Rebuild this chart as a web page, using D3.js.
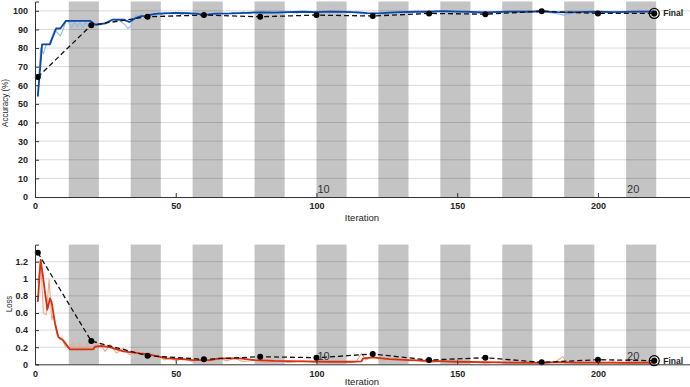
<!DOCTYPE html>
<html>
<head>
<meta charset="utf-8">
<script src="https://cdn.jsdelivr.net/npm/d3@7"></script>
<style>
  body { margin: 0; background: #fff; }
  svg { display: block; font-family: "Liberation Sans", Arial, sans-serif; }
</style>
</head>
<body>
<div id="chart"></div>
<script>
// training progress data (iteration, value)
const accRaw = [[1,54],[2,80],[3,77],[4,82],[5,82],[6,86],[7,90],[8,88],[9,86.5],[10,90],[11,94.5],[12,94],[13,91],[14,94],[15,91.5],[16,93.5],[17,91],[18,94],[19,91.5],[20,93],[21,92.5],[22,93],[23,92.5],[24,93.5],[25,93],[26,94.5],[27,95],[28,95.5],[29,94.5],[30,95],[31,93.5],[32,92.5],[33,90.5],[34,91.5],[35,96],[36,97.5],[37,97],[38,98],[39,96.5],[40,97.5],[41,98.5],[42,97],[43,98.5],[44,99],[45,98],[46,99],[48,98.5],[50,99.2],[52,98],[54,99],[56,98.4],[58,99.2],[60,97.4],[62,98.5],[64,97.8],[66,99],[68,98.2],[70,99.2],[72,98.6],[74,99.4],[76,98.5],[78,99.4],[80,98.8],[84,99.5],[86,98.6],[90,99.6],[93,98.9],[96,99.7],[100,99],[104,99.8],[107,99.1],[110,99.6],[114,98.8],[117,98.3],[120,98.8],[124,98.2],[127,99.3],[131,98.8],[135,99.8],[139,99.2],[143,100],[147,99.4],[151,99.9],[155,99.1],[158,98.6],[162,99.5],[166,99],[170,99.8],[174,99.2],[178,99.9],[182,99.3],[186,98.3],[188,97.7],[191,98.8],[195,99.5],[199,98.9],[203,99.7],[207,99.1],[211,99.8],[215,99.3],[218,99.8],[220,99.5]];

const accSmooth = [[1,54],[2.5,82],[5.3,82],[7.5,90.5],[9,90.5],[11,94.6],[19.5,94.6],[21.5,92.5],[25,93.3],[27.7,95.3],[31.5,95.3],[33.5,94],[35.5,95.9],[37.5,97],[39,97.3],[42.6,98.4],[46,98.6],[50,98.9],[54,98.7],[57,98.5],[60.4,97.8],[64,98.5],[70,98.6],[75,98.9],[80,99.2],[85,99],[90,99.3],[95,99.5],[100,99.3],[105,99.6],[110,99.4],[115,99.2],[118,98.8],[122,98.6],[126,99],[130,99.3],[135,99.5],[140,99.5],[145,99.8],[150,99.6],[155,99.4],[160,99.2],[165,99.4],[170,99.6],[175,99.5],[180,99.7],[185,99.3],[190,99.2],[195,99.4],[200,99.5],[205,99.3],[210,99.4],[215,99.6],[220,99.6]];

const lossRaw = [[1,0.95],[2,1.22],[3,0.6],[4,0.58],[5,0.99],[6,0.52],[6.5,0.58],[7.7,0.36],[8.9,0.29],[9.5,0.31],[10.7,0.21],[12,0.2],[13.6,0.245],[14.8,0.17],[16,0.245],[17.2,0.17],[18.4,0.24],[19.5,0.18],[21,0.21],[23.1,0.245],[24.9,0.15],[26.6,0.23],[29,0.13],[31.4,0.19],[33.7,0.11],[36,0.17],[37.3,0.11],[40,0.12],[42,0.08],[44,0.1],[46,0.05],[48,0.08],[50,0.04],[53,0.07],[56,0.03],[59,0.06],[62,0.03],[65,0.08],[68,0.04],[71,0.07],[74,0.03],[78,0.05],[82,0.02],[86,0.04],[90,0.02],[95,0.04],[100,0.02],[105,0.035],[110,0.02],[114,0.03],[116,0.13],[117.5,0.05],[120,0.09],[123,0.05],[127,0.06],[131,0.03],[135,0.05],[140,0.02],[145,0.04],[150,0.015],[155,0.03],[160,0.01],[165,0.03],[170,0.01],[175,0.025],[180,0.01],[185,0.03],[187.5,0.09],[189,0.02],[194,0.03],[200,0.01],[205,0.025],[210,0.01],[215,0.02],[220,0.01]];

const lossSmooth = [[1,0.73],[2,1.22],[2.7,1.06],[3.6,0.83],[4.4,0.64],[5.3,0.77],[5.9,0.73],[7.1,0.48],[8.3,0.32],[10,0.28],[12.4,0.175],[20.7,0.175],[21.3,0.206],[23.7,0.214],[26.6,0.2],[31.4,0.15],[37.3,0.128],[40,0.12],[46.8,0.07],[52,0.06],[56.2,0.05],[62.2,0.05],[65.7,0.07],[72.8,0.07],[78,0.05],[85,0.04],[95,0.035],[105,0.03],[112,0.03],[116,0.035],[116.6,0.07],[120,0.08],[126,0.06],[133,0.05],[140,0.04],[150,0.03],[160,0.025],[170,0.02],[180,0.018],[187,0.025],[192,0.02],[200,0.02],[210,0.018],[220,0.02]];

const valIters = [1, 20, 40, 60, 80, 100, 120, 140, 160, 180, 200, 220];
const valAcc = [64.4, 92.3, 96.8, 97.7, 96.8, 97.7, 97.2, 98.6, 98.2, 99.8, 98.6, 98.6];
const valLoss = [1.305, 0.272, 0.10, 0.058, 0.089, 0.077, 0.12, 0.05, 0.077, 0.023, 0.054, 0.042];

const shadedEpochs = [2, 4, 6, 8, 10, 12, 14, 16, 18, 20];
const itersPerEpoch = 11;
const labelEpochs = [10, 20];

const xTicks = [0, 50, 100, 150, 200];
const accTicks = [0, 10, 20, 30, 40, 50, 60, 70, 80, 90, 100];
const lossTicks = [0, 0.2, 0.4, 0.6, 0.8, 1, 1.2];

const W = 690, H = 387;
const svg = d3.select("#chart").append("svg").attr("width", W).attr("height", H);

const x = d3.scaleLinear().domain([0, 232.7]).range([35, 690]);

function drawPanel(opts) {
    const y = opts.y;
    const g = svg.append("g");
    const top = y.range()[1], bottom = y.range()[0];

    // epoch shading
    g.selectAll(".band")
        .data(shadedEpochs)
        .enter().append("rect")
        .attr("x", d => x((d - 1) * itersPerEpoch + 1))
        .attr("width", x(itersPerEpoch - 0.3) - x(0))
        .attr("y", top)
        .attr("height", bottom - top)
        .attr("fill", "#c4c4c4");

    // horizontal grid
    g.selectAll(".grid")
        .data(opts.ticks.slice(1))
        .enter().append("line")
        .attr("x1", x(0)).attr("x2", x.range()[1])
        .attr("y1", d => y(d)).attr("y2", d => y(d))
        .attr("stroke", "#000")
        .attr("stroke-opacity", 0.15)
        .attr("stroke-width", 1);

    // epoch labels
    g.selectAll(".ep")
        .data(labelEpochs)
        .enter().append("text")
        .attr("x", d => x((d - 1) * itersPerEpoch + 1) + 1)
        .attr("y", bottom - 4)
        .style("font-size", "11px")
        .style("fill", "#333")
        .text(d => d);

    const line = d3.line().x(d => x(d[0])).y(d => y(d[1]));

    g.append("path")
        .datum(opts.raw)
        .attr("d", line)
        .attr("fill", "none")
        .attr("stroke", opts.rawColor)
        .attr("stroke-width", 1.1)
        .attr("stroke-linejoin", "round");

    g.append("path")
        .datum(opts.smooth)
        .attr("d", line)
        .attr("fill", "none")
        .attr("stroke", opts.smoothColor)
        .attr("stroke-width", 1.8)
        .attr("stroke-linejoin", "round");

    const val = valIters.map((it, i) => [it, opts.val[i]]);

    g.append("path")
        .datum(val)
        .attr("d", line)
        .attr("fill", "none")
        .attr("stroke", "#111")
        .attr("stroke-width", 1.3)
        .attr("stroke-dasharray", "5,3");

    g.selectAll(".vdot")
        .data(val)
        .enter().append("circle")
        .attr("cx", d => x(d[0]))
        .attr("cy", d => y(d[1]))
        .attr("r", 3)
        .attr("fill", "#000");

    // final marker
    const last = val[val.length - 1];
    g.append("circle")
        .attr("cx", x(last[0])).attr("cy", y(last[1]))
        .attr("r", 5)
        .attr("fill", "none")
        .attr("stroke", "#000")
        .attr("stroke-width", 1.2);
    g.append("text")
        .attr("x", x(last[0]) + 9)
        .attr("y", y(last[1]) + 3)
        .style("font-size", "8.5px")
        .style("font-weight", "bold")
        .style("fill", "#222")
        .text("Final");

    // axes
    const yAxis = g.append("g")
        .attr("transform", `translate(${x(0)},0)`)
        .call(d3.axisLeft(y).tickValues(opts.ticks).tickSize(-4).tickPadding(7).tickFormat(opts.fmt));
    const xAxis = g.append("g")
        .attr("transform", `translate(0,${bottom})`)
        .call(d3.axisBottom(x).tickValues(xTicks).tickSize(-4).tickPadding(6));

    [yAxis, xAxis].forEach(a => {
        a.select(".domain").attr("stroke", "#333").attr("stroke-width", 1);
        a.selectAll(".tick line").attr("stroke", "#333");
        a.selectAll(".tick text")
            .style("font-size", "9px")
            .style("font-weight", "bold")
            .style("fill", "#222")
            .style("font-family", "Liberation Sans, Arial, sans-serif");
    });

    g.append("text")
        .attr("transform", `translate(${opts.yLabelX},${opts.yLabelY}) rotate(-90)`)
        .attr("text-anchor", "middle")
        .attr("textLength", opts.yLabelLen)
        .attr("lengthAdjust", "spacingAndGlyphs")
        .style("font-size", "9.5px")
        .style("fill", "#222")
        .text(opts.yLabel);

    g.append("text")
        .attr("x", 362)
        .attr("y", opts.xLabelY)
        .attr("text-anchor", "middle")
        .style("font-size", "9.5px")
        .style("fill", "#222")
        .text("Iteration");
}

drawPanel({
    y: d3.scaleLinear().domain([0, 105]).range([197, 1.5]),
    ticks: accTicks,
    fmt: d3.format("d"),
    raw: accRaw, smooth: accSmooth, val: valAcc,
    rawColor: "#8dbbe8", smoothColor: "#0b46ad",
    yLabel: "Accuracy (%)", yLabelX: 8, yLabelY: 103, yLabelLen: 48,
    xLabelY: 221
});

drawPanel({
    y: d3.scaleLinear().domain([0, 1.4]).range([364.3, 244.6]),
    ticks: lossTicks,
    fmt: d => d3.format("~g")(d),
    raw: lossRaw, smooth: lossSmooth, val: valLoss,
    rawColor: "#f2a88e", smoothColor: "#d8300f",
    yLabel: "Loss", yLabelX: 12, yLabelY: 304, yLabelLen: 16,
    xLabelY: 385
});
</script>
</body>
</html>
